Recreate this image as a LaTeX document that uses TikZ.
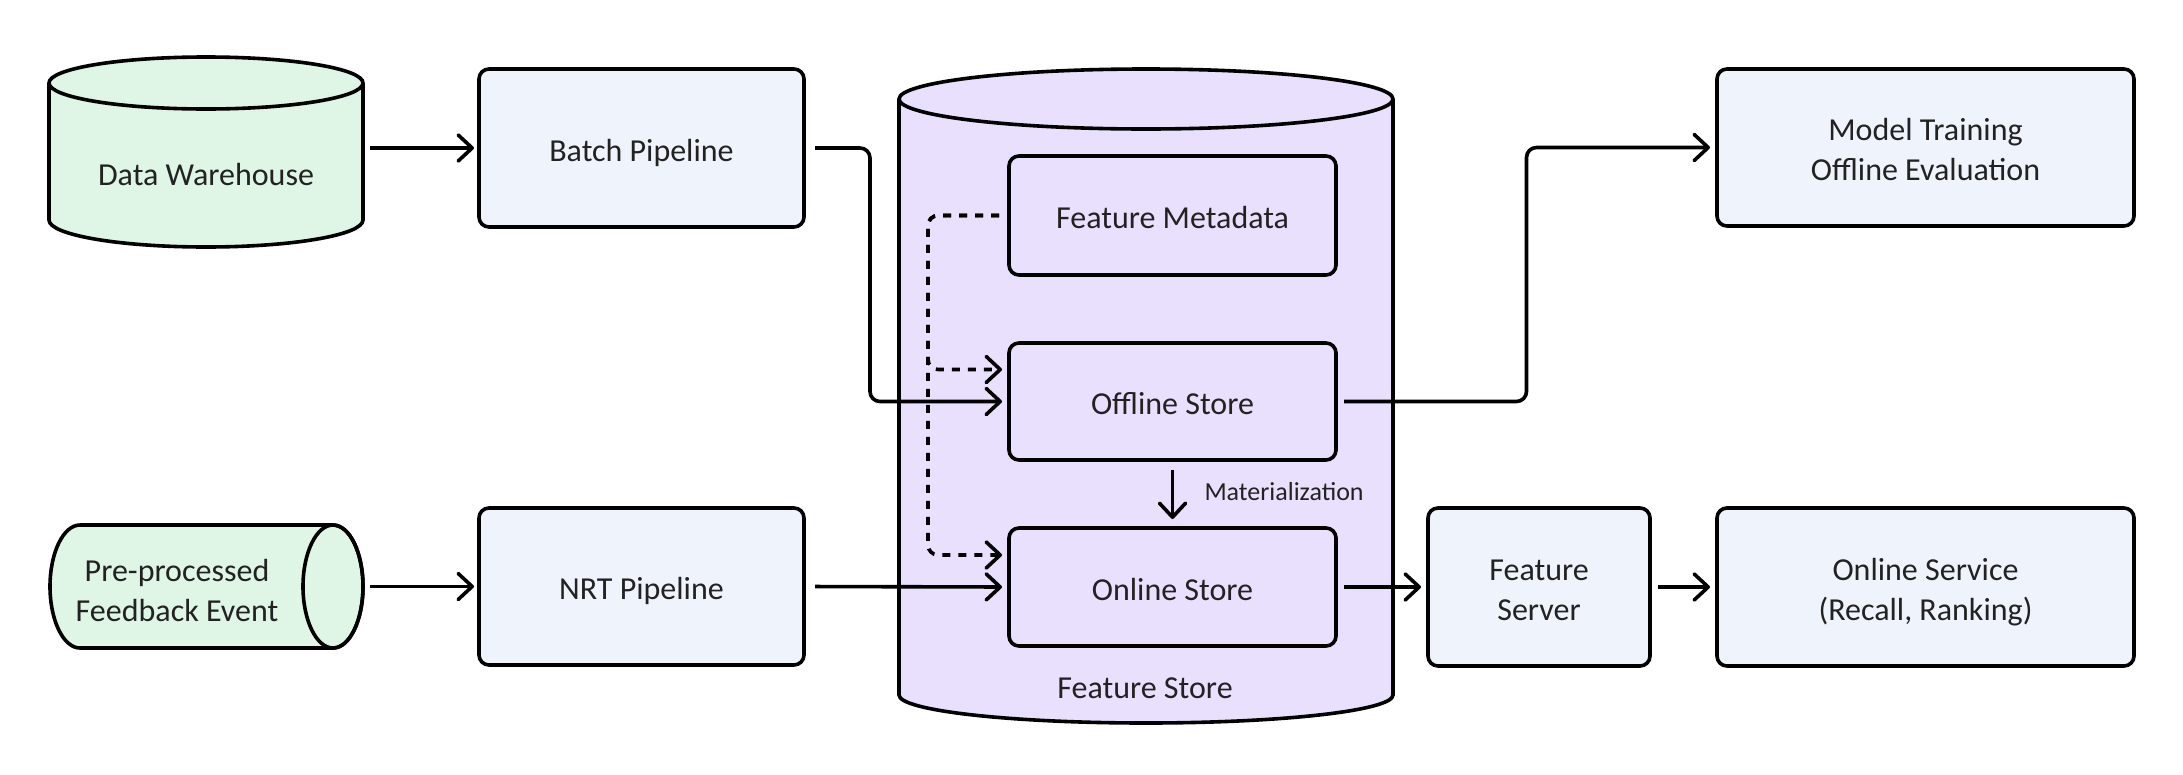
\documentclass[tikz,border=0pt]{standalone}
\usepackage{fontspec}
\setmainfont{Carlito}
\usetikzlibrary{arrows.meta,calc}
\definecolor{greenF}{HTML}{DFF5E6}
\definecolor{blueF}{HTML}{EFF3FC}
\definecolor{purpF}{HTML}{E8E0FD}
\definecolor{txt}{HTML}{222222}
\begin{document}
\begin{tikzpicture}[x=1pt,y=-1pt,
  lw/.style={line width=3.6pt},
  one/.style={text height=26pt, text depth=0pt},
  two/.style={text height=66pt, text depth=0pt},
  box/.style={draw, lw, rounded corners=10pt, align=center, inner sep=0pt, outer sep=0pt, font=\fontsize{32}{40}\selectfont, text=txt},
  bbox/.style={box, fill=blueF},
  pbox/.style={box, fill=purpF},
  lbl/.style={align=center, inner sep=0pt, outer sep=0pt, font=\fontsize{32}{40}\selectfont, text=txt},
  arr/.style={lw, -{Straight Barb[length=14pt,width=26pt,round]}, shorten <=8pt, shorten >=7pt},
  dasharr/.style={arr, dash pattern=on 8pt off 8pt, rounded corners=10pt},
]
\useasboundingbox (0,0) rectangle (2183,774);

% Data Warehouse cylinder
\filldraw[lw, fill=greenF] (49,83) -- (49,220) arc[start angle=180,end angle=360,x radius=157pt,y radius=27pt] -- (363,83) arc[start angle=0,end angle=180,x radius=157pt,y radius=26pt] -- cycle;
\draw[lw] (49,83) arc[start angle=180,end angle=360,x radius=157pt,y radius=26pt];

% Feedback horizontal cylinder
\filldraw[lw, fill=greenF] (80,525) -- (333,525) arc[start angle=90,end angle=-90,x radius=30pt,y radius=61.5pt] -- (80,648) arc[start angle=270,end angle=90,x radius=30pt,y radius=61.5pt] -- cycle;
\draw[lw] (333,586.5) ellipse[x radius=30pt,y radius=61.5pt];

% Feature Store cylinder
\filldraw[lw, fill=purpF] (899,99) -- (899,695) arc[start angle=180,end angle=360,x radius=247pt,y radius=28pt] -- (1393,99) arc[start angle=0,end angle=180,x radius=247pt,y radius=30pt] -- cycle;
\draw[lw] (899,99) arc[start angle=180,end angle=360,x radius=247pt,y radius=30pt];

% Nodes
\node[lbl, one, minimum width=314pt] (dw) at (206,172.5) {Data Warehouse};
\node[lbl, two, minimum width=372pt] (fb) at (177,588) {Pre-processed\\Feedback Event};
\node[bbox, one, minimum width=325pt, minimum height=158pt] (batch) at (641.5,148) {Batch Pipeline};
\node[bbox, one, minimum width=325pt, minimum height=157pt] (nrt) at (641.5,586.5) {NRT Pipeline};
\node[pbox, one, minimum width=327pt, minimum height=119pt] (meta) at (1172.5,215.5) {Feature Metadata};
\node[pbox, one, minimum width=327pt, minimum height=117pt] (offline) at (1172.5,401.5) {Offline Store};
\node[pbox, one, minimum width=327pt, minimum height=118pt] (online) at (1172.5,587) {Online Store};
\node[lbl, one] (fs) at (1145,685.5) {Feature Store};
\node[bbox, two, minimum width=417pt, minimum height=157pt] (model) at (1925.5,147.5) {Model Training\\Offline Evaluation};
\node[bbox, two, minimum width=222pt, minimum height=158pt] (fserver) at (1539,587) {Feature\\Server};
\node[bbox, two, minimum width=417pt, minimum height=158pt] (oservice) at (1925.5,587) {Online Service\\(Recall, Ranking)};

% Connectors
\draw[arr, shorten <=7pt, shorten >=5pt] (dw.east |- batch.west) -- (batch.west);
\draw[arr, shorten <=7pt, shorten >=5pt] (fb.east |- nrt.west) -- (nrt.west);
\draw[arr, rounded corners=10pt, shorten <=11pt] (batch.east) -- ++(66,0) |- (offline.west);
\draw[arr, shorten <=11pt] (nrt.east) -- (online.west);
\draw[dasharr, shorten <=10pt] (meta.west) -- ++(-81,0) |- ([yshift=32pt]online.west);
\draw[dasharr, shorten <=10pt] (meta.west) -- ++(-81,0) |- ([yshift=32pt]offline.west);
\draw[arr, shorten <=10pt, shorten >=9pt] (offline.south) -- node[lbl, anchor=west, xshift=32pt, yshift=4.5pt, text height=21pt, text depth=0pt, font=\fontsize{26}{30}\selectfont] (mat) {Materialization} (online.north);
\draw[arr, rounded corners=10pt] (offline.east) -| ($(offline.east)!.5!(model.west)$) |- (model.west);
\draw[arr] (online.east) -- (fserver.west);
\draw[arr] (fserver.east) -- (oservice.west);
\end{tikzpicture}
\end{document}
